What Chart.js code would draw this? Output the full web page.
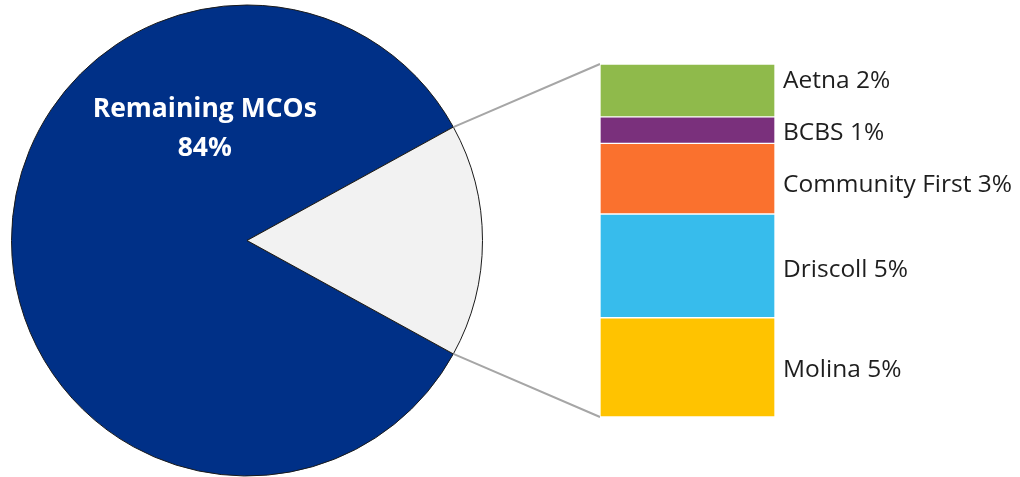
<!DOCTYPE html>
<html>
<head>
<meta charset="utf-8">
<script src="https://cdn.jsdelivr.net/npm/chart.js@4/dist/chart.umd.min.js"></script>
<style>
  html, body { margin: 0; padding: 0; background: #fff; }
  .wrap { position: relative; width: 1020px; height: 477px; }
  .wrap canvas { position: absolute; left: 0; top: 0; }
</style>
</head>
<body>
<div class="wrap">
  <canvas id="pieChart" width="1020" height="477"></canvas>
  <canvas id="barChart" width="1020" height="477"></canvas>
</div>
<script>
// pie: remaining MCOs vs the named ones
const pieLabels = ['Remaining MCOs', 'Other'];
const pieValues = [84, 16];
const pieText = ['84%', ''];

// breakdown of the 16% slice
const mcoNames = ['Aetna', 'BCBS', 'Community First', 'Driscoll', 'Molina'];
const mcoValues = [2.4, 1.2, 3.2, 4.7, 4.5];
const mcoText = ['2%', '1%', '3%', '5%', '5%'];
const mcoColors = ['#8fba4b', '#7a307c', '#fa712e', '#37bcec', '#ffc300'];

const labelFont = '24.5px "Open Sans", "Noto Sans", sans-serif';
const labelNudge = [-9, 3, 6, 4, 3]; // small vertical shifts seen in the original

// pie first, bar chart draws the connector lines from its arcs
const otherShare = pieValues[1] / (pieValues[0] + pieValues[1]);

const pieLabelPlugin = {
    id: 'pieLabel',
    afterDatasetsDraw(chart) {
        const arc = chart.getDatasetMeta(0).data[0];
        const ctx = chart.ctx;
        // put the label in the upper-left part of the big slice
        const a = -110.6 * Math.PI / 180;
        const r = arc.outerRadius * 0.51;
        const x = arc.x + r * Math.cos(a);
        const y = arc.y + r * Math.sin(a);
        ctx.save();
        ctx.fillStyle = '#fff';
        ctx.font = 'bold 26.5px "Open Sans", "Noto Sans", sans-serif';
        ctx.textAlign = 'center';
        ctx.textBaseline = 'middle';
        ctx.fillText(pieLabels[0], x, y - 19);
        ctx.fillText(pieText[0], x, y + 20);
        ctx.restore();
    }
};

const pieChart = new Chart(document.getElementById('pieChart'), {
    type: 'pie',
    data: {
        labels: pieLabels,
        datasets: [{
            data: pieValues,
            backgroundColor: ['#003087', '#f2f2f2'],
            borderColor: '#1a1a1a',
            borderWidth: 1
        }]
    },
    options: {
        responsive: false,
        animation: false,
        // grey slice centred on 3 o'clock
        rotation: 90 + otherShare * 180,
        layout: { padding: { left: 11, right: 537, top: 4, bottom: 0 } },
        plugins: { legend: { display: false }, tooltip: { enabled: false } }
    },
    plugins: [pieLabelPlugin]
});

const barLabelPlugin = {
    id: 'barLabels',
    afterDatasetsDraw(chart) {
        const ctx = chart.ctx;
        ctx.save();
        ctx.font = labelFont;
        ctx.fillStyle = '#1e1e1e';
        ctx.textAlign = 'left';
        ctx.textBaseline = 'middle';
        chart.data.datasets.forEach((ds, i) => {
            const bar = chart.getDatasetMeta(i).data[0];
            const mid = (bar.y + bar.base) / 2;
            ctx.fillText(mcoNames[i] + ' ' + mcoText[i], bar.x + bar.width / 2 + 8, mid + labelNudge[i]);
        });
        ctx.restore();
    }
};

const connectorPlugin = {
    id: 'connector',
    beforeDatasetsDraw(chart) {
        const arc = pieChart.getDatasetMeta(0).data[1];
        const first = chart.getDatasetMeta(0).data[0];
        const last = chart.getDatasetMeta(mcoNames.length - 1).data[0];
        const left = first.x - first.width / 2;
        const ctx = chart.ctx;
        ctx.save();
        ctx.strokeStyle = '#a6a6a6';
        ctx.lineWidth = 2;
        ctx.beginPath();
        ctx.moveTo(arc.x + arc.outerRadius * Math.cos(arc.startAngle), arc.y + arc.outerRadius * Math.sin(arc.startAngle));
        ctx.lineTo(left, Math.min(first.y, first.base));
        ctx.moveTo(arc.x + arc.outerRadius * Math.cos(arc.endAngle), arc.y + arc.outerRadius * Math.sin(arc.endAngle));
        ctx.lineTo(left, Math.max(last.y, last.base));
        ctx.stroke();
        ctx.restore();
    }
};

new Chart(document.getElementById('barChart'), {
    type: 'bar',
    data: {
        labels: ['Other'],
        datasets: mcoNames.map((name, i) => ({
            label: name,
            data: [mcoValues[i]],
            backgroundColor: mcoColors[i],
            borderColor: '#ffffff',
            borderWidth: 1,
            borderSkipped: false,
            barPercentage: 1,
            categoryPercentage: 1
        }))
    },
    options: {
        responsive: false,
        animation: false,
        layout: { padding: { left: 600, right: 245, top: 64, bottom: 60 } },
        scales: {
            x: { stacked: true, display: false },
            y: {
                stacked: true,
                display: false,
                reverse: true,
                min: 0,
                max: mcoValues.reduce((s, v) => s + v, 0)
            }
        },
        plugins: { legend: { display: false }, tooltip: { enabled: false } }
    },
    plugins: [connectorPlugin, barLabelPlugin]
});
</script>
</body>
</html>
